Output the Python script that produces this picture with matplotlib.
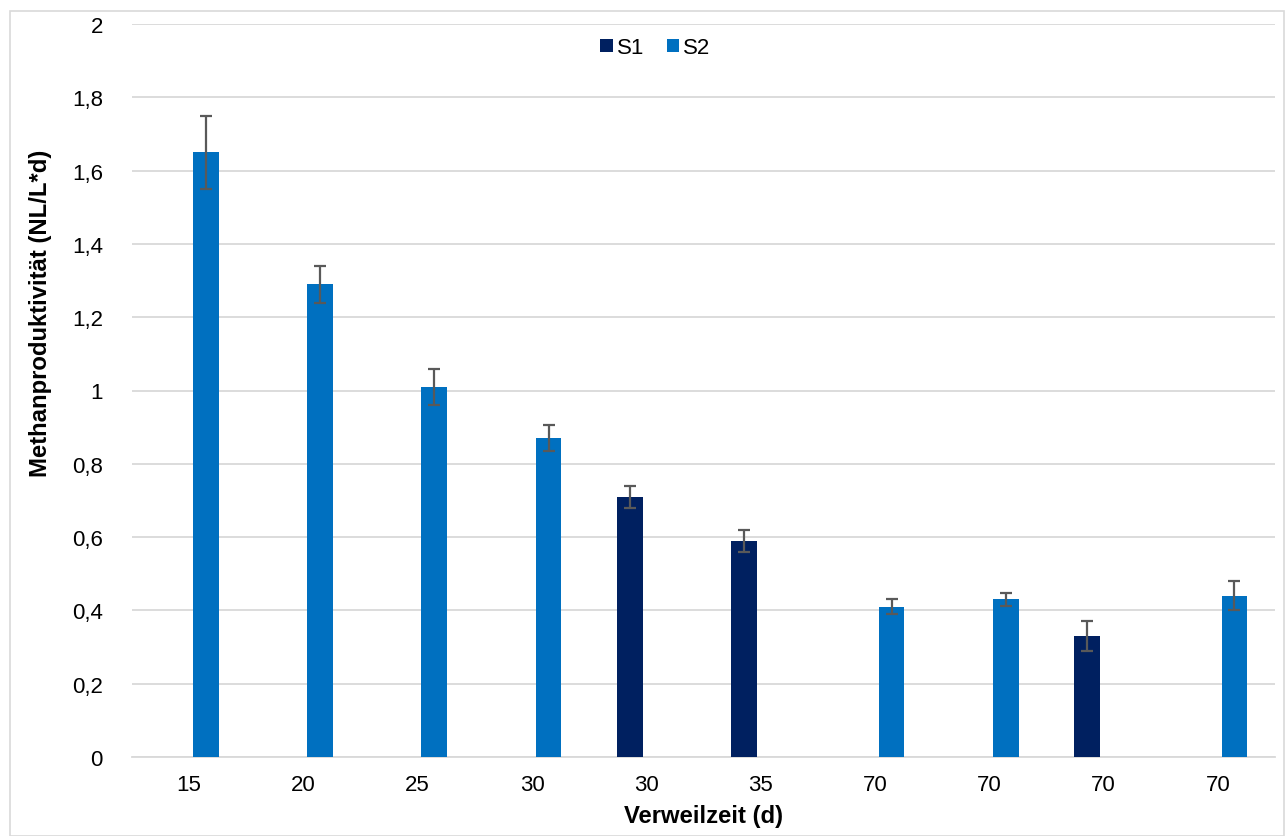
import matplotlib
matplotlib.use("Agg")
import matplotlib.pyplot as plt
from matplotlib.patches import Rectangle
import numpy as np

plt.rcParams['font.family'] = ['Liberation Sans', 'DejaVu Sans']

categories = ["15", "20", "25", "30", "30", "35", "70", "70", "70", "70"]
s1_values = [None, None, None, None, 0.71, 0.59, None, None, 0.33, None]
s1_errors = [None, None, None, None, 0.03, 0.03, None, None, 0.04, None]
s2_values = [1.65, 1.29, 1.01, 0.87, None, None, 0.41, 0.43, None, 0.44]
s2_errors = [0.10, 0.05, 0.05, 0.035, None, None, 0.02, 0.018, None, 0.04]
yticks = [0, 0.2, 0.4, 0.6, 0.8, 1, 1.2, 1.4, 1.6, 1.8, 2]
yticklabels = ["0", "0,2", "0,4", "0,6", "0,8", "1", "1,2", "1,4", "1,6", "1,8", "2"]

c1 = "#002060"
c2 = "#0070C0"
ecol = "#595959"

W, H = 1285, 837
fig = plt.figure(figsize=(W/100, H/100), dpi=100)
fig.patches.append(Rectangle((10/W, 0), (W-10)/W - 0.0005, (H-12)/H, transform=fig.transFigure,
                             fill=False, edgecolor="#d9d9d9", lw=1.2))
ax = fig.add_axes([132/W, (H-758)/H, (1275-132)/W, (758-25)/H])

x = np.arange(len(categories))
off = 0.145
bw = 0.225

def draw(vals, errs, shift, color, label):
    xs = [xi + shift for xi, v in zip(x, vals) if v is not None]
    vs = [v for v in vals if v is not None]
    es = [e for e in errs if e is not None]
    ax.bar(xs, vs, width=bw, color=color, label=label, zorder=3)
    ax.errorbar(xs, vs, yerr=es, fmt="none", ecolor=ecol, elinewidth=1.6,
                capsize=4.5, capthick=1.6, zorder=4)

draw(s1_values, s1_errors, -off, c1, "S1")
draw(s2_values, s2_errors, off, c2, "S2")

ax.set_xlim(-0.5, len(categories) - 0.5)
ax.set_ylim(0, 2)
ax.set_yticks(yticks)
ax.set_yticklabels(yticklabels)
ax.set_xticks(x)
ax.set_xticklabels(categories)
ax.tick_params(axis="both", length=0, labelsize=16, colors="black")
ax.tick_params(axis="y", pad=21)
ax.tick_params(axis="x", pad=12)
ax.grid(axis="y", color="#d9d9d9", lw=1.3, zorder=0)
ax.set_axisbelow(True)
for s in ["top", "right", "left"]:
    ax.spines[s].set_visible(False)
ax.spines["bottom"].set_color("#d9d9d9")
ax.spines["bottom"].set_linewidth(1.3)

ax.set_ylabel("Methanproduktivität (NL/L*d)", fontsize=17.2, fontweight="bold")
ax.yaxis.set_label_coords(-0.070, 0.606)
ax.set_xlabel("Verweilzeit (d)", fontsize=17.2, fontweight="bold", labelpad=7)

ax.legend(loc="upper center", bbox_to_anchor=(0.458, 1.0), ncol=2, frameon=False,
          fontsize=16, handlelength=0.55, handleheight=0.55, handletextpad=0.2,
          columnspacing=1.0, borderaxespad=0.2)

fig.savefig("out.png", dpi=100)
